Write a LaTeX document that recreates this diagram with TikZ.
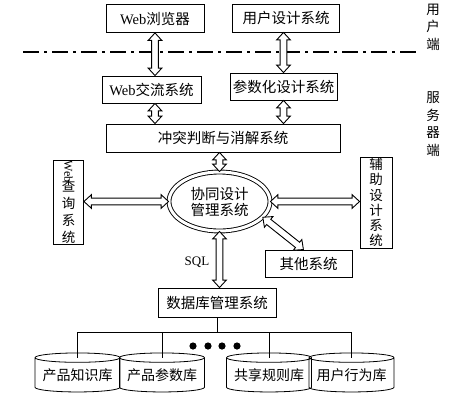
\documentclass[tikz,border=0pt]{standalone}
\usepackage{fontspec}
\setmainfont{Liberation Serif}
\newfontfamily\cjk{Noto Sans CJK SC}
\usetikzlibrary{calc,shapes.geometric,shapes.arrows}

\tikzset{
  sysbox/.style={draw, line width=0.9pt, inner sep=1pt, align=center, font=\cjk\fontsize{14.5}{16}\selectfont},
  vbox/.style={sysbox, font=\cjk\fontsize{13.5}{15.2}\selectfont},
  dbcyl/.style={draw, line width=0.8pt, cylinder, shape border rotate=90, aspect=0.13, minimum width=85pt, minimum height=39pt, inner sep=1pt, font=\cjk\fontsize{14}{15}\selectfont},
  sidetext/.style={align=center, font=\cjk\fontsize{13.5}{17.5}\selectfont},
  hollow/.style={double arrow, draw, line width=0.9pt, fill=white, inner xsep=0pt, inner ysep=2.9pt, double arrow head extend=3.5pt, double arrow tip angle=85},
  treeline/.style={line width=0.9pt},
}
\newcommand\biarrow[2]{\path let \p1=(#1), \p2=(#2), \n1={atan2(\y2-\y1,\x2-\x1)}, \n2={veclen(\x2-\x1,\y2-\y1)} in node[hollow, minimum height=\n2, rotate=\n1] at ($(\p1)!0.5!(\p2)$) {};}

\begin{document}
\begin{tikzpicture}[x=1pt, y=-1pt]
			%%%%% START %%%%%
			\useasboundingbox (0,0) rectangle (452,402);
			
			\node[sysbox, minimum width=98pt, minimum height=28pt] (browser) at (155,18.5) {{\rmfamily Web}浏览器};
			\node[sysbox, minimum width=107pt, minimum height=28pt] (userdesign) at (286,18) {用户设计系统};
			
			\draw[line width=1.8pt, dash pattern=on 16pt off 5pt on 3pt off 5pt] (23,52) -- (417,52);
			\node[sidetext] (client) at (433,27) {用\\户\\端};
			\node[sidetext] (server) at (433,124) {服\\务\\器\\端};
			
			\node[sysbox, minimum width=99pt, minimum height=27pt] (webcomm) at (151.5,89.5) {{\rmfamily Web}交流系统};
			\node[sysbox, minimum width=107pt, minimum height=27pt] (param) at (283.5,86.5) {参数化设计系统};
			\node[sysbox, minimum width=234pt, minimum height=28pt] (conflict) at (223,138) {冲突判断与消解系统};
			
			\node[draw, ellipse, double, double distance=3pt, line width=0.9pt, minimum width=101pt, minimum height=59pt, inner sep=0pt, align=center, font=\cjk\fontsize{14.5}{16}\selectfont] (cdm) at (219.5,201.5) {协同设计\\管理系统};
			
			\node[vbox, minimum width=30pt, minimum height=82pt, font=\cjk\fontsize{13.5}{17}\selectfont] (webquery) at (68.5,202) {\rotatebox{-90}{\rmfamily\fontsize{12}{12}\selectfont Web}\\[-4pt]查\\询\\系\\统};
			\node[vbox, minimum width=32pt, minimum height=91pt] (aux) at (376,202.5) {辅\\助\\设\\计\\系\\统};
			\node[sysbox, minimum width=87pt, minimum height=27pt] (other) at (308.5,263.5) {其他系统};
			
			\node[sysbox, minimum width=118pt, minimum height=29pt] (dbms) at (217,302.5) {数据库管理系统};
			\node[font=\fontsize{13}{14}\selectfont] (sql) at (197,262) {SQL};
			
			\biarrow{browser.south}{browser.south |- webcomm.north}
			\biarrow{userdesign.south -| param.north}{param.north}
			\biarrow{webcomm.south -| browser.south}{conflict.north -| browser.south}
			\biarrow{param.south}{param.south |- conflict.north}
			\biarrow{conflict.south -| cdm.north}{cdm.north}
			\biarrow{webquery.east |- cdm.west}{cdm.west}
			\biarrow{cdm.east}{cdm.east -| aux.west}
			\biarrow{cdm.-20}{other.110}
			\biarrow{cdm.south}{cdm.south |- dbms.north}
			
			\node[dbcyl] (k1) at (77.5,375.5) {产品知识库};
			\node[dbcyl] (k2) at (162,375.5) {产品参数库};
			\node[dbcyl] (k3) at (269,375.5) {共享规则库};
			\node[dbcyl] (k4) at (351.5,375.5) {用户行为库};
			
			\coordinate (bus) at (217,332);
			\draw[treeline] (dbms.south) -- (bus);
			\draw[treeline] (k1.north |- bus) -- (k4.north |- bus);
			\foreach \k in {k1,k2,k3,k4}
				\draw[treeline] (\k.north |- bus) -- ($(\k.north)+(0,5)$);
			\foreach \x in {193,208,222,237}
				\fill (\x,346) circle (3.6);
			%%%%% END %%%%%
\end{tikzpicture}
\end{document}
